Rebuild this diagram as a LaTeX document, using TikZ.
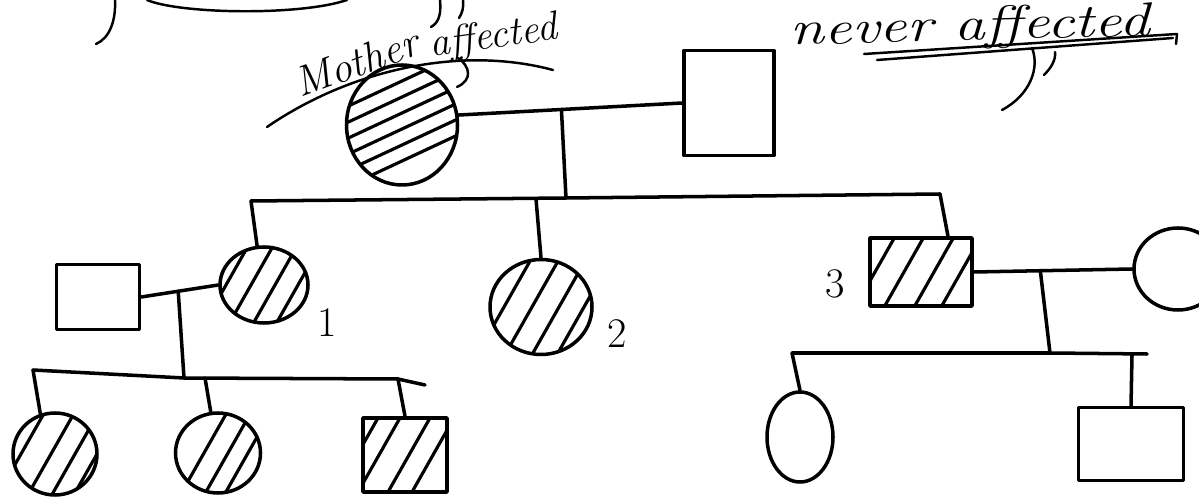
\documentclass[tikz,border=0pt]{standalone}
\usepackage{graphicx}
\usetikzlibrary{shapes.geometric,calc}
\newcommand\pxu{0.02cm}
\tikzset{
  ink/.style={line width=2pt, line cap=round, line join=round},
  fem/.style={ellipse, draw, ink, inner sep=0pt},
  mal/.style={rectangle, draw, ink, inner sep=0pt},
  link/.style={ink},
  hatch/.style={line width=1.8pt, line cap=round},
  note/.style={line width=1.4pt, line cap=round},
  numlabel/.style={inner sep=0pt, font=\fontsize{24}{28}\selectfont},
  handtext/.style={inner sep=0pt, anchor=base west},
}
% steep hatching inside an ellipse node: name, rx, ry, offsets
\newcommand\hatchEll[4]{%
  \begin{scope}
    \clip (#1.center) ellipse [x radius=#2*\pxu, y radius=#3*\pxu];
    \foreach \k in {#4}
      \draw[hatch] ($(#1.center)+(\k,0)+(-34,60)$) -- ($(#1.center)+(\k,0)+(34,-60)$);
  \end{scope}}
% steep hatching inside a rectangle node: name, offsets
\newcommand\hatchRect[2]{%
  \begin{scope}
    \clip (#1.south west) rectangle (#1.north east);
    \foreach \k in {#2}
      \draw[hatch] ($(#1.center)+(\k,0)+(-34,60)$) -- ($(#1.center)+(\k,0)+(34,-60)$);
  \end{scope}}
\begin{document}
\begin{tikzpicture}[x=0.02cm, y=-0.02cm]
\useasboundingbox (0,0) rectangle (1199,502);

% ---------- stray strokes at the top ----------
\coordinate (sa0) at (115,0);  \coordinate (sa1) at (96,44);
\draw[note] (sa0) .. controls (116,20) and (110,38) .. (sa1);
\coordinate (sb0) at (147,0);  \coordinate (sb1) at (347,0);
\draw[note] (sb0) .. controls (180,14) and (300,16) .. (sb1);
\coordinate (sc0) at (440,0);  \coordinate (sc1) at (431,27);
\draw[note] (sc0) .. controls (441,12) and (440,22) .. (sc1);
\coordinate (sd0) at (463,0);  \coordinate (sd1) at (459,18);
\draw[note] (sd0) .. controls (464,7) and (462,14) .. (sd1);
\coordinate (se0) at (458,58); \coordinate (se1) at (457,87);
\draw[note] (se0) .. controls (470,66) and (473,80) .. (se1);

% ---------- texts ----------
\node[handtext, rotate=20] (lblM) at (300,98)
  {\fontsize{24}{27}\selectfont\itshape Mother};
\node[handtext, rotate=8] (lblA) at (431,57)
  {\fontsize{23}{26}\selectfont\itshape affected};
\coordinate (ulM0) at (267,127); \coordinate (ulM1) at (553,70);
\draw[note] (ulM0) .. controls (350,70) and (460,45) .. (ulM1);

\node[handtext, rotate=1.5] (lblN) at (790,45)
  {\scalebox{1.3}[1]{\fontsize{27}{31}\selectfont\itshape never affected}};
\coordinate (ulN0) at (864,54);  \coordinate (ulN1) at (1177,34);
\coordinate (ulN2) at (877,60);  \coordinate (ulN3) at (1173,38);
\coordinate (ulN4) at (1176,44);
\draw[note] (ulN0) -- (ulN1);
\draw[note] (ulN2) -- (ulN3);
\draw[note] (ulN1) -- (ulN4);
\coordinate (fd0) at (1032,48);  \coordinate (fd1) at (1002,110);
\draw[note] (fd0) .. controls (1040,68) and (1030,95) .. (fd1);
\coordinate (fe0) at (1055,52);  \coordinate (fe1) at (1044,75);
\draw[note] (fe0) .. controls (1056,60) and (1051,68) .. (fe1);

% ---------- generation I ----------
\node[fem, minimum width=111*\pxu, minimum height=120*\pxu] (mother) at (402,125) {};
\begin{scope}
  \clip (mother.center) ellipse [x radius=55.5*\pxu, y radius=60*\pxu];
  \foreach \k in {-44,-28,-12,4,20,36}
    \draw[hatch] ($(mother.center)+(0,\k)+(-90,42)$) -- ($(mother.center)+(0,\k)+(90,-42)$);
\end{scope}
\node[mal, minimum width=90*\pxu, minimum height=105*\pxu] (father) at (729,103) {};

\draw[link] (mother.10) -- (father.west);
\coordinate (m1) at ($(mother.10)!0.46!(father.west)$);
\coordinate (d1) at (566,198);
\draw[link] (m1) -- (d1);

% sibship line I
\coordinate (t1) at (251,201);
\coordinate (t2) at (536,199);
\coordinate (t3) at (940,194);
\draw[link] (t1) -- (d1) -- (t3);

% ---------- generation II ----------
\node[fem, minimum width=88*\pxu, minimum height=76*\pxu] (c1) at (264,285) {};
\hatchEll{c1}{44}{38}{-38,-13,11,34}
\node[mal, minimum width=83*\pxu, minimum height=65*\pxu] (h1) at (98,297) {};
\node[fem, minimum width=102*\pxu, minimum height=95*\pxu] (c2) at (541,307) {};
\hatchEll{c2}{51}{47.5}{-37,-9,18,43}
\node[mal, minimum width=102*\pxu, minimum height=68*\pxu] (c3) at (921,272) {};
\hatchRect{c3}{-46,-17,13,40}
\node[fem, minimum width=88*\pxu, minimum height=82*\pxu] (w3) at (1178,269) {};

\draw[link] (t1) -- (c1.100);
\draw[link] (t2) -- (c2.north);
\draw[link] (t3) -- ($(c3.north)+(27,0)$);

\node[numlabel] (n1) at (327,323) {1};
\node[numlabel] (n2) at (617,334) {2};
\node[numlabel] (n3) at (835,284) {3};

% couple: h1 x c1
\draw[link] (h1.east) -- (c1.west);
\coordinate (m2) at ($(h1.east)!0.48!(c1.west)$);
\coordinate (d2) at (184,378);
\draw[link] (m2) -- (d2);

% couple: c3 x w3
\draw[link] (c3.east) -- (w3.west);
\coordinate (m3) at ($(c3.east)!0.42!(w3.west)$);
\coordinate (d3) at (1050,353);
\draw[link] (m3) -- (d3);

% ---------- generation III, left ----------
\coordinate (u1) at (33,370);
\coordinate (u2) at (205,378);
\coordinate (u3) at (398,379);
\coordinate (u4) at (425,385);
\draw[link] (u1) -- (d2) -- (u3) -- (u4);

\node[fem, minimum width=84*\pxu, minimum height=82*\pxu] (g1) at (55,454) {};
\hatchEll{g1}{42}{41}{-34,-4,20,42}
\node[fem, minimum width=85*\pxu, minimum height=80*\pxu] (g2) at (218,453) {};
\hatchEll{g2}{42.5}{40}{-14,10,30}
\node[mal, minimum width=84*\pxu, minimum height=74*\pxu] (g3) at (405,455) {};
\hatchRect{g3}{-48,-26,4,28}

\draw[link] (u1) -- (g1.110);
\draw[link] (u2) -- (g2.100);
\draw[link] (u3) -- (g3.north);

% ---------- generation III, right ----------
\coordinate (v1) at (792,353);
\coordinate (v2) at (1132,355);
\coordinate (v3) at (1147,354);
\draw[link] (v1) -- (d3) -- (v3);

\node[fem, minimum width=66*\pxu, minimum height=90*\pxu] (g4) at (800,437) {};
\node[mal, minimum width=105*\pxu, minimum height=73*\pxu] (g5) at (1131,444) {};

\draw[link] (v1) -- (g4.north);
\draw[link] (v2) -- (g5.north);
\end{tikzpicture}
\end{document}
